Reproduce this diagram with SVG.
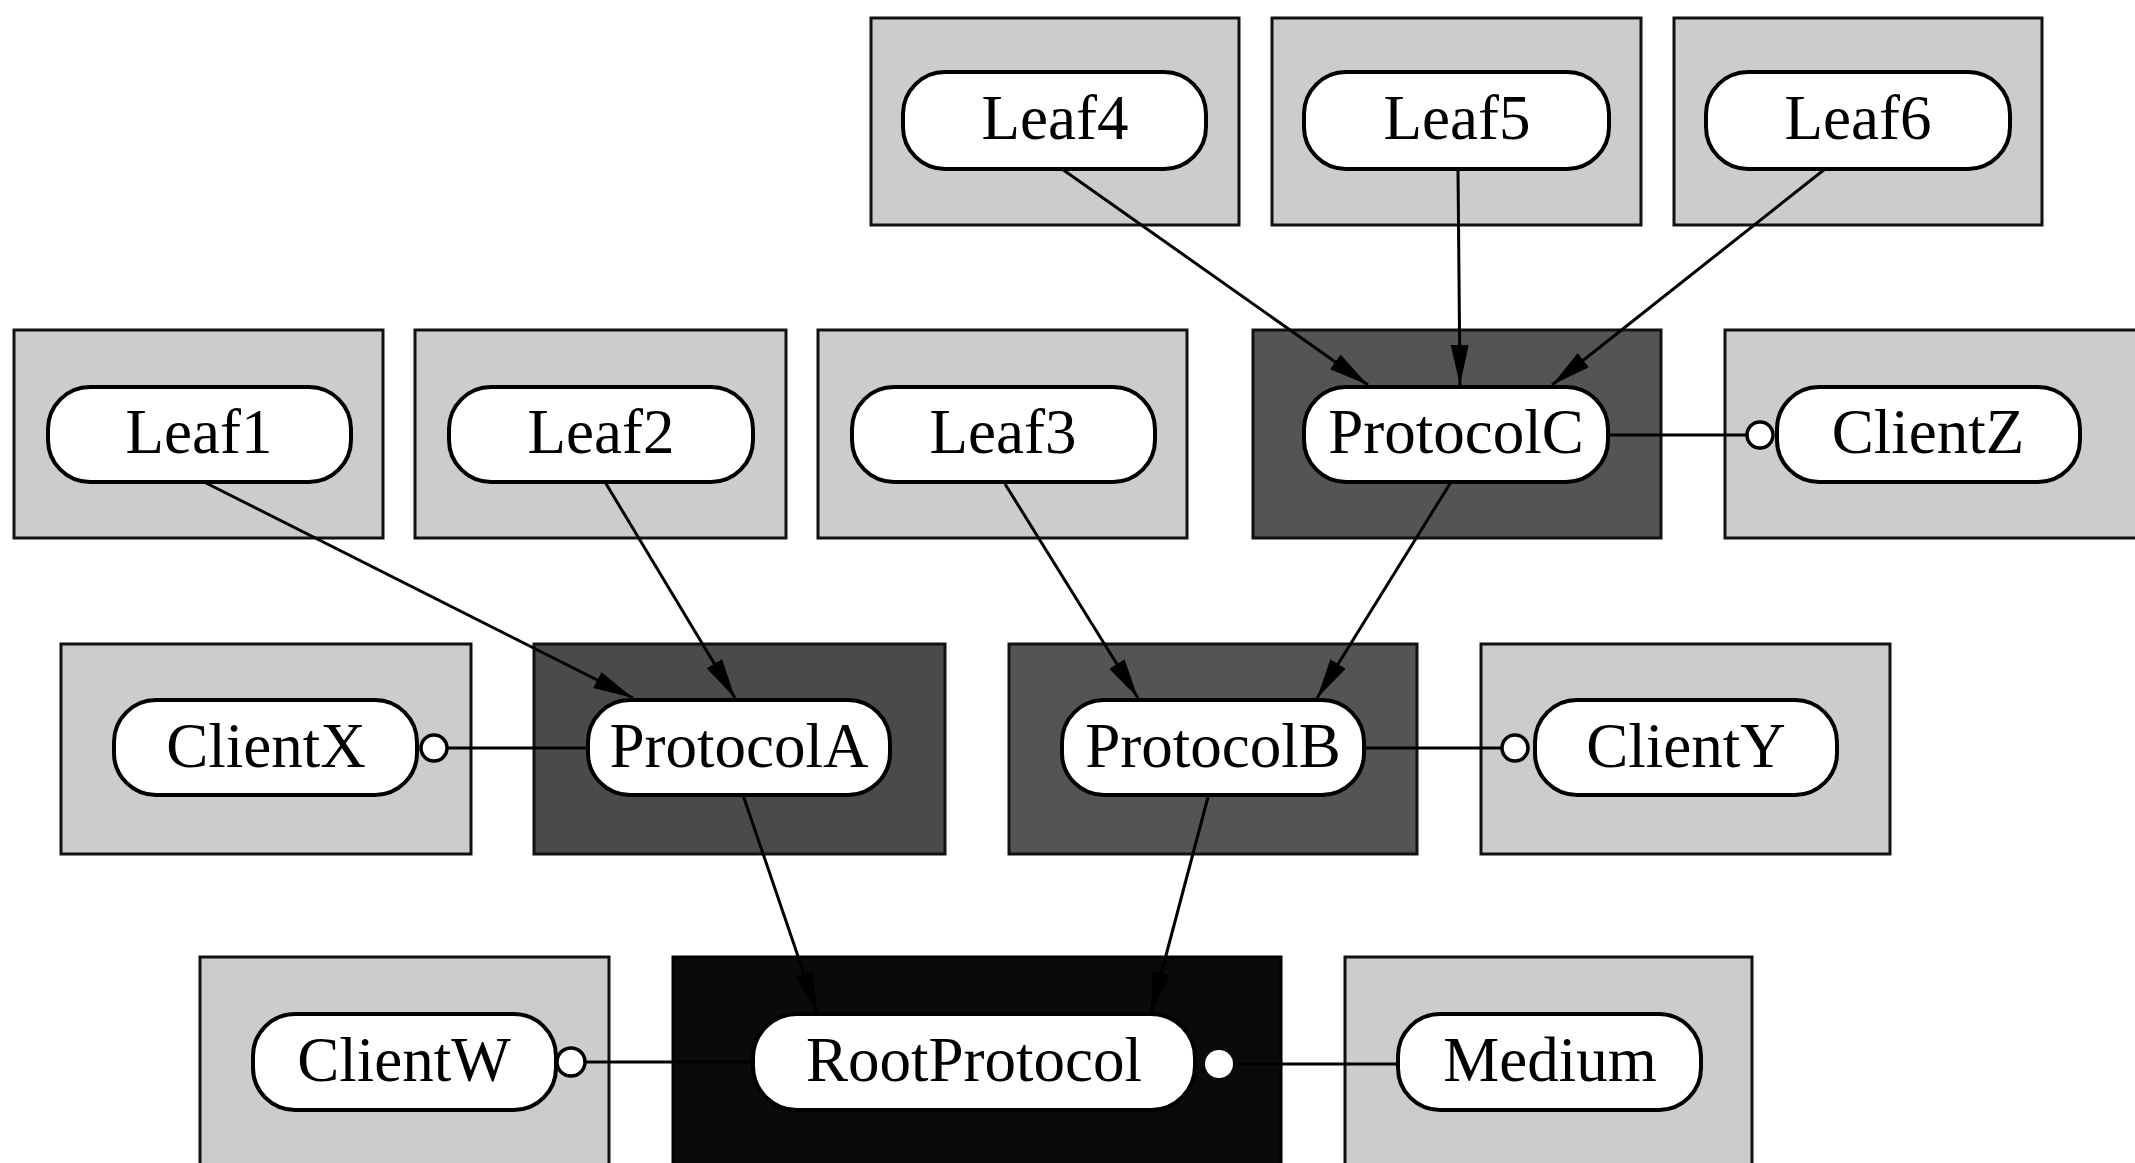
<svg xmlns="http://www.w3.org/2000/svg" width="2135" height="1163" viewBox="0 0 2135 1163">
<defs>
<marker id="arr" markerUnits="userSpaceOnUse" markerWidth="42" markerHeight="20" refX="40" refY="9" orient="auto">
<path d="M0,0 L40,9 L0,18 z" fill="#000"/>
</marker>
<style>
.light{fill:#cccccc;stroke:#111;stroke-width:3}
.mid{fill:#545454;stroke:#111;stroke-width:3}
.dark{fill:#4a4a4a;stroke:#111;stroke-width:3}
.black{fill:#0a0a0a;stroke:#000;stroke-width:3}
.pill{fill:#fff;stroke:#000;stroke-width:4}
.lbl{font-family:"Liberation Serif","DejaVu Serif",serif;font-size:63px;fill:#000;text-anchor:middle}
.edge{stroke:#000;stroke-width:3;fill:none}
.port{fill:#fff;stroke:#000;stroke-width:3.5}
</style>
</defs>
<rect width="2135" height="1163" fill="#fff"/>

<g id="Leaf4"><rect class="light" x="871" y="18" width="368" height="207"/><rect class="pill" x="903" y="72" width="303" height="97" rx="42"/><text class="lbl" x="1055" y="139">Leaf4</text></g>
<g id="Leaf5"><rect class="light" x="1272" y="18" width="369" height="207"/><rect class="pill" x="1304" y="72" width="305" height="97" rx="42"/><text class="lbl" x="1457" y="139">Leaf5</text></g>
<g id="Leaf6"><rect class="light" x="1674" y="18" width="368" height="207"/><rect class="pill" x="1706" y="72" width="304" height="97" rx="42"/><text class="lbl" x="1858" y="139">Leaf6</text></g>

<g id="Leaf1"><rect class="light" x="14" y="330" width="369" height="208"/><rect class="pill" x="48" y="387" width="303" height="95" rx="42"/><text class="lbl" x="199" y="453">Leaf1</text></g>
<g id="Leaf2"><rect class="light" x="415" y="330" width="371" height="208"/><rect class="pill" x="449" y="387" width="304" height="95" rx="42"/><text class="lbl" x="601" y="453">Leaf2</text></g>
<g id="Leaf3"><rect class="light" x="818" y="330" width="369" height="208"/><rect class="pill" x="852" y="387" width="303" height="95" rx="42"/><text class="lbl" x="1003" y="453">Leaf3</text></g>
<g id="ProtocolC"><rect class="mid" x="1253" y="330" width="408" height="208"/><rect class="pill" x="1304" y="387" width="304" height="95" rx="42"/><text class="lbl" x="1456" y="453">ProtocolC</text></g>
<g id="ClientZ"><rect class="light" x="1725" y="330" width="415" height="208"/><rect class="pill" x="1777" y="387" width="303" height="95" rx="42"/><text class="lbl" x="1928" y="453">ClientZ</text><circle class="port" cx="1760" cy="435" r="13"/></g>

<g id="ClientX"><rect class="light" x="61" y="644" width="410" height="210"/><rect class="pill" x="114" y="700" width="303" height="95" rx="42"/><text class="lbl" x="266" y="767">ClientX</text><circle class="port" cx="434" cy="748" r="13"/></g>
<g id="ProtocolA"><rect class="dark" x="534" y="644" width="411" height="210"/><rect class="pill" x="588" y="700" width="302" height="95" rx="42"/><text class="lbl" x="739" y="767">ProtocolA</text></g>
<g id="ProtocolB"><rect class="mid" x="1009" y="644" width="408" height="210"/><rect class="pill" x="1062" y="700" width="302" height="95" rx="42"/><text class="lbl" x="1213" y="767">ProtocolB</text></g>
<g id="ClientY"><rect class="light" x="1481" y="644" width="409" height="210"/><rect class="pill" x="1535" y="700" width="302" height="95" rx="42"/><text class="lbl" x="1686" y="767">ClientY</text><circle class="port" cx="1515" cy="748" r="13"/></g>

<g id="ClientW"><rect class="light" x="200" y="957" width="409" height="220"/><rect class="pill" x="253" y="1014" width="303" height="96" rx="42"/><text class="lbl" x="404" y="1081">ClientW</text><circle class="port" cx="571" cy="1062" r="14"/></g>
<g id="RootProtocol"><rect class="black" x="673" y="957" width="608" height="220"/><rect class="pill" x="753" y="1014" width="442" height="96" rx="44"/><text class="lbl" x="974" y="1081">RootProtocol</text><circle cx="1219" cy="1064" r="14" fill="#fff"/></g>
<g id="Medium"><rect class="light" x="1345" y="957" width="407" height="220"/><rect class="pill" x="1398" y="1014" width="303" height="96" rx="42"/><text class="lbl" x="1550" y="1081">Medium</text></g>

<g id="connectors">
<line class="edge" x1="204" y1="482" x2="633" y2="698" marker-end="url(#arr)"/>
<line class="edge" x1="605" y1="482" x2="735" y2="698" marker-end="url(#arr)"/>
<line class="edge" x1="1005" y1="484" x2="1138" y2="698" marker-end="url(#arr)"/>
<line class="edge" x1="1451" y1="482" x2="1317" y2="698" marker-end="url(#arr)"/>
<line class="edge" x1="1062" y1="169" x2="1368" y2="385" marker-end="url(#arr)"/>
<line class="edge" x1="1458" y1="169" x2="1460" y2="385" marker-end="url(#arr)"/>
<line class="edge" x1="1825" y1="169" x2="1552" y2="385" marker-end="url(#arr)"/>
<line class="edge" x1="743" y1="795" x2="817" y2="1012" marker-end="url(#arr)"/>
<line class="edge" x1="1208" y1="797" x2="1151" y2="1012" marker-end="url(#arr)"/>
<line class="edge" x1="1608" y1="435" x2="1747" y2="435"/>
<line class="edge" x1="447" y1="748" x2="588" y2="748"/>
<line class="edge" x1="1364" y1="748" x2="1502" y2="748"/>
<line class="edge" x1="585" y1="1062" x2="753" y2="1062"/>
<line class="edge" x1="1233" y1="1064" x2="1398" y2="1064"/>
</g>
</svg>
